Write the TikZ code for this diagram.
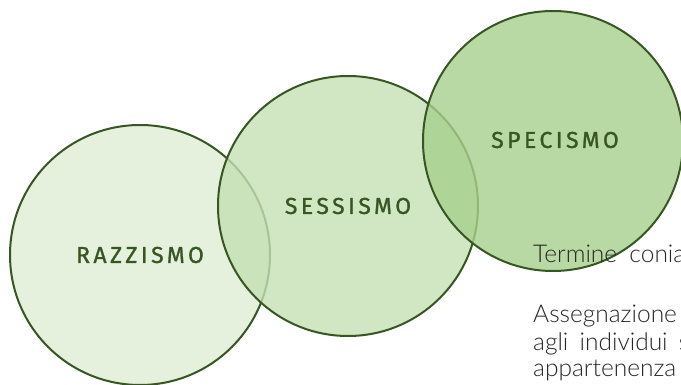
\documentclass[tikz,border=0pt]{standalone}
\usepackage{fontspec}
\usepackage{tikz}
\setmainfont{Lato}[UprightFont=* Light]
\newfontfamily\etichetta[LetterSpace=15, FakeBold=1.2]{Fira Sans}
\definecolor{verdescuro}{HTML}{375623}
\definecolor{verde80}{HTML}{E2EFD9}
\definecolor{verde60}{HTML}{C5E0B3}
\definecolor{verde40}{HTML}{A8D08D}
\definecolor{testo}{HTML}{262626}
\tikzstyle{insieme}=[circle, draw=verdescuro, line width=2pt, fill opacity=0.8, text opacity=1, minimum size=260pt, inner sep=0pt, text=verdescuro, font=\etichetta\fontsize{23}{23}\selectfont]
\tikzstyle{riga}=[anchor=base west, inner sep=0pt, text=testo, font=\fontsize{24.5}{24.5}\selectfont]

\begin{document}
\begin{tikzpicture}[x=1pt, y=-1pt]
			\useasboundingbox (0,0) rectangle (681,385);
			\clip (0,0) rectangle (681,385);
			\node[insieme, fill=verde80, fill opacity=0.9] (c1) at (140,255) {RAZZISMO};
			\node[insieme, fill=verde60] (c2) at (348,206) {SESSISMO};
			\node[insieme, fill=verde40] (c3) at (553,141) {};
			\node[text=verdescuro, font=\etichetta\fontsize{23}{23}\selectfont] (l3) at (555,140) {SPECISMO};
			\node[riga] (t1) at (533,263) {\hbox to 152pt{Termine\hfill conia}};
			\node[riga] (t2) at (533,323) {Assegnazione};
			\node[riga] (t3) at (533,350) {\hbox to 156pt{agli\hfill individui\hfill s}};
			\node[riga] (t4) at (533,376) {appartenenza};
		\end{tikzpicture}
\end{document}
